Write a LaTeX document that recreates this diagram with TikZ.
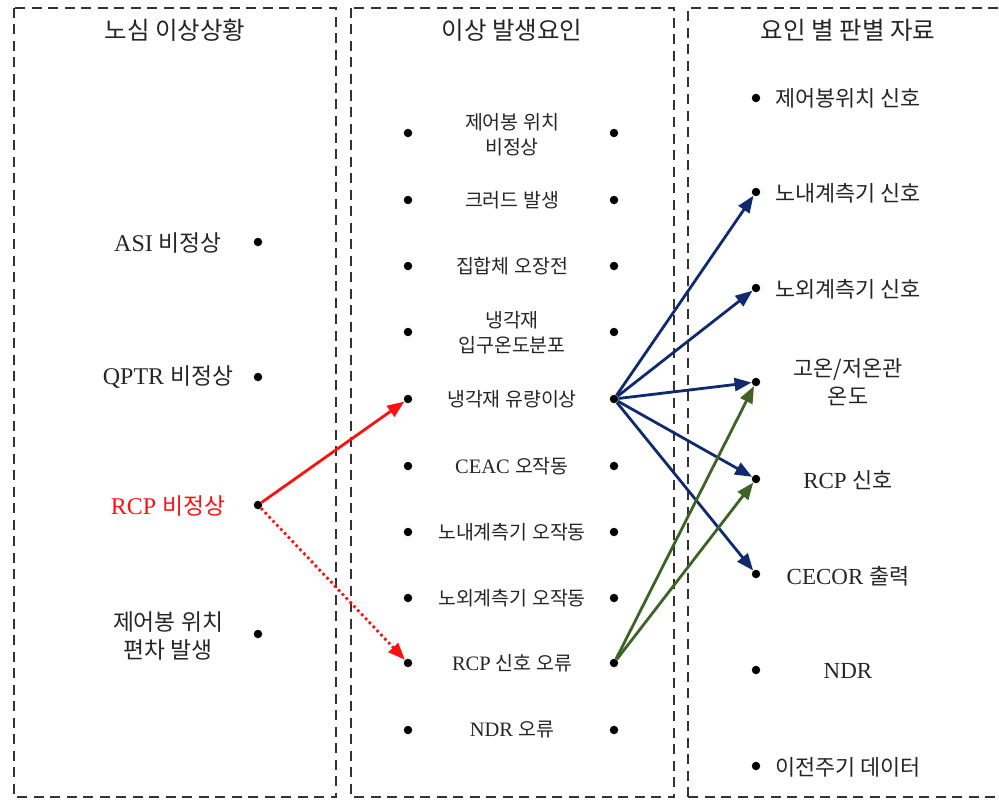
\documentclass[tikz,border=0pt]{standalone}
\usepackage{fontspec}
\setmainfont{Liberation Serif}
\newfontfamily\krfont[Scale=0.95]{Noto Sans CJK KR}
\newcommand{\kor}[1]{{\krfont #1}}
\usetikzlibrary{arrows.meta}
\definecolor{navyc}{HTML}{102A6E}
\definecolor{greenc}{HTML}{3E6326}
\definecolor{redc}{HTML}{FF1010}
\definecolor{txt}{HTML}{262626}
\definecolor{frame}{HTML}{333333}
\tikzset{
  colbox/.style={draw=frame, line width=2.2pt, dash pattern=on 10pt off 6.5pt},
  hdr/.style={font=\krfont\fontsize{25.8}{28}\selectfont, text=txt, inner sep=0pt},
  lbl/.style={text=txt, inner sep=0pt, align=center},
  lblL/.style={lbl, font=\fontsize{24}{28}\selectfont},
  lblM/.style={lbl, font=\fontsize{20.5}{25}\selectfont},
  lblR/.style={lbl, font=\fontsize{23}{28}\selectfont},
  dot/.style={circle, fill=black, inner sep=0pt, minimum size=8.5pt},
  arr/.style={line width=2.8pt, -{Triangle[length=17pt,width=13pt]}},
}
\begin{document}
\begin{tikzpicture}[x=1pt,y=-1pt]
\useasboundingbox (0,0) rectangle (999,800);
% column frames
\draw[colbox] (14,8) rectangle (336,797);
\draw[colbox] (351,8) rectangle (674,797);
\draw[colbox] (688,797) -- (688,8) -- (1005,8);
\draw[colbox] (688,797) -- (1005,797);
% headers
\node[hdr] (h1) at (175,30) {노심 이상상황};
\node[hdr] (h2) at (512,30) {이상 발생요인};
\node[hdr] (h3) at (848,30) {요인 별 판별 자료};
% left column
\node[lblL] (l1) at (168,243) {ASI \kor{비정상}};
\node[dot] (l1d) at (258,242) {};
\node[lblL] (l2) at (168,377) {QPTR \kor{비정상}};
\node[dot] (l2d) at (258,377) {};
\node[lblL, text=redc] (l3) at (168,506) {RCP \kor{비정상}};
\node[dot] (l3d) at (258,505) {};
\node[lblL] (l4) at (168,636) {\kor{제어봉 위치}\\\kor{편차 발생}};
\node[dot] (l4d) at (258,634) {};
% middle column
\foreach \i/\y/\t in {1/135/{\kor{제어봉 위치}\\\kor{비정상}},2/200/{\kor{크러드 발생}},3/266/{\kor{집합체 오장전}},4/333/{\kor{냉각재}\\\kor{입구온도분포}},5/399/{\kor{냉각재 유량이상}},6/466/{CEAC \kor{오작동}},7/532/{\kor{노내계측기 오작동}},8/598/{\kor{노외계측기 오작동}},9/663/{RCP \kor{신호 오류}},10/730/{NDR \kor{오류}}}{
  \node[lblM] (m\i) at (512,\y) {\t};
}
\foreach \i/\y in {1/133,2/200,3/266,4/332,5/399,6/466,7/532,8/598,9/663,10/730}{
  \node[dot] (m\i l) at (408,\y) {};
  \node[dot] (m\i r) at (614,\y) {};
}
% right column
\foreach \i/\y/\t in {1/98/{\kor{제어봉위치 신호}},2/193/{\kor{노내계측기 신호}},3/289/{\kor{노외계측기 신호}},4/382/{\kor{고온/저온관}\\\kor{온도}},5/480/{RCP \kor{신호}},6/576/{CECOR \kor{출력}},7/671/{NDR},8/767/{\kor{이전주기 데이터}}}{
  \node[lblR] (r\i) at (848,\y) {\t};
}
\foreach \i/\y in {1/98,2/192,3/288,4/382,5/479,6/574,7/670,8/766}{
  \node[dot] (r\i d) at (756,\y) {};
}
% connectors
\draw[arr, redc] (l3d) -- (m5l);
\draw[arr, redc, dash pattern=on 2.6pt off 3pt] (l3d) -- (m9l);
\foreach \k in {2,3,4,5,6}{
  \draw[arr, navyc] (m5r) -- (r\k d);
}
\foreach \k in {4,5}{
  \draw[arr, greenc] (m9r) -- (r\k d);
}
\end{tikzpicture}
\end{document}
